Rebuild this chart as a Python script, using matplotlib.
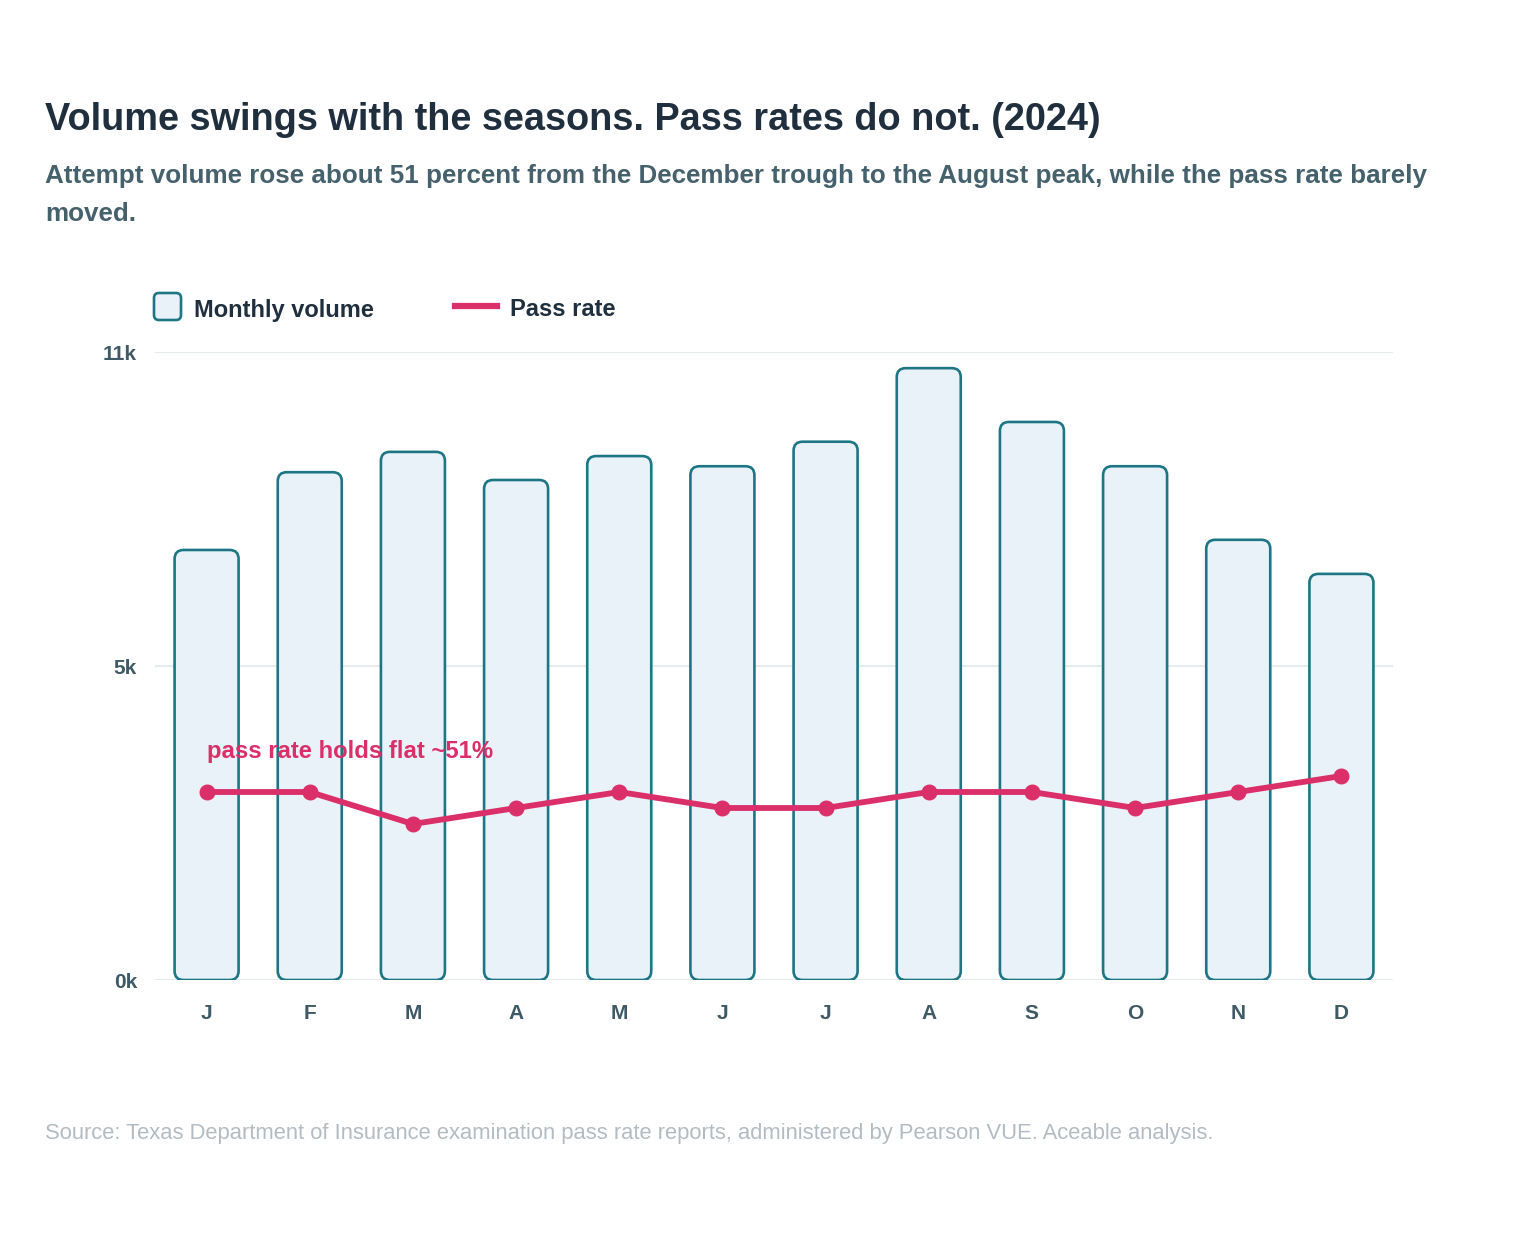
import matplotlib
matplotlib.use("Agg")
import matplotlib.pyplot as plt
from matplotlib.patches import FancyBboxPatch
from matplotlib.lines import Line2D
from matplotlib.transforms import Affine2D

months = ["J", "F", "M", "A", "M", "J", "J", "A", "S", "O", "N", "D"]
volume = [7190, 8490, 8830, 8360, 8760, 8590, 9000, 10230, 9330, 8590, 7360, 6790]
pass_rate = [51, 51, 49, 50, 51, 50, 50, 51, 51, 50, 51, 52]
y_ticks = [0, 5250, 10500]
y_tick_labels = ["0k", "5k", "11k"]

TEAL = "#1D7684"
FILL = "#EAF2F9"
PINK = "#DB2F69"
DARK = "#1F2F3D"
SUB = "#44616C"
TICK = "#3E5A66"
GRID = "#E6EBEE"
SRC = "#B3BCC3"

plt.rcParams["font.family"] = ["Liberation Sans", "DejaVu Sans"]

W, H = 1528, 1248
fig = plt.figure(figsize=(W / 100, H / 100), dpi=100)
px = Affine2D().scale(1 / W, -1 / H).translate(0, 1) + fig.transFigure

L, R, T, B = 155, 1393, 352, 980
ax = fig.add_axes([L / W, 1 - B / H, (R - L) / W, (B - T) / H])
ax.set_xlim(-0.5, 11.5)
ax.set_ylim(0, 10500)
for s in ax.spines.values():
    s.set_visible(False)

# rounded bars
xunit_px = (R - L) / 12.0
yunit_px = (B - T) / 10500.0
bw = 64 / xunit_px
rad_px = 9
aspect = (1 / yunit_px) / (1 / xunit_px)
for i, v in enumerate(volume):
    p = FancyBboxPatch((i - bw / 2, 0), bw, v,
                       boxstyle=f"round,pad=0,rounding_size={rad_px / xunit_px}",
                       mutation_aspect=aspect,
                       facecolor=FILL, edgecolor=TEAL, linewidth=1.9, zorder=2)
    ax.add_patch(p)

ax.set_yticks(y_ticks)
ax.set_yticklabels(y_tick_labels)
ax.set_xticks(range(12))
ax.set_xticklabels(months)
ax.tick_params(axis="both", length=0, colors=TICK, labelsize=15)
ax.tick_params(axis="y", pad=13)
ax.tick_params(axis="x", pad=17.5)
for lab in ax.get_xticklabels() + ax.get_yticklabels():
    lab.set_fontweight("bold")
ax.grid(axis="y", color=GRID, linewidth=1.5, zorder=0)
ax.set_axisbelow(True)

ax2 = ax.twinx()
for s in ax2.spines.values():
    s.set_visible(False)
ax2.set_ylim(39.25, 78.5)
ax2.set_yticks([])
ax2.plot(range(12), pass_rate, color=PINK, linewidth=4.2, marker="o",
         markersize=10.5, zorder=5, solid_capstyle="round")
ax2.annotate("pass rate holds flat ~51%", xy=(0, pass_rate[0]),
             xytext=(0, 29), textcoords="offset points",
             ha="left", va="center", color=PINK, fontsize=17.2, fontweight="bold")

# title and subtitle
fig.text(45, 120, "Volume swings with the seasons. Pass rates do not. (2024)",
         transform=px, ha="left", va="center", fontsize=27.3, fontweight="bold", color=DARK)
fig.text(45, 176, "Attempt volume rose about 51 percent from the December trough to the August peak, while the pass rate barely",
         transform=px, ha="left", va="center", fontsize=18.7, fontweight="bold", color=SUB)
fig.text(45, 214, "moved.", transform=px, ha="left", va="center",
         fontsize=18.7, fontweight="bold", color=SUB)

# legend
lp = FancyBboxPatch((154, 293), 27, 27, boxstyle="round,pad=0,rounding_size=5",
                    transform=px, facecolor=FILL, edgecolor=TEAL, linewidth=1.9)
fig.add_artist(lp)
fig.text(194, 310, "Monthly volume", transform=px, ha="left", va="center",
         fontsize=17, fontweight="bold", color=DARK)
fig.add_artist(Line2D([455, 497], [306, 306], transform=px, color=PINK, linewidth=4.5))
fig.text(510, 310, "Pass rate", transform=px, ha="left", va="center",
         fontsize=17, fontweight="bold", color=DARK)

fig.text(45, 1134, "Source: Texas Department of Insurance examination pass rate reports, administered by Pearson VUE. Aceable analysis.",
         transform=px, ha="left", va="center", fontsize=15.85, color=SRC)

fig.savefig("out.png", dpi=100, facecolor="white")
